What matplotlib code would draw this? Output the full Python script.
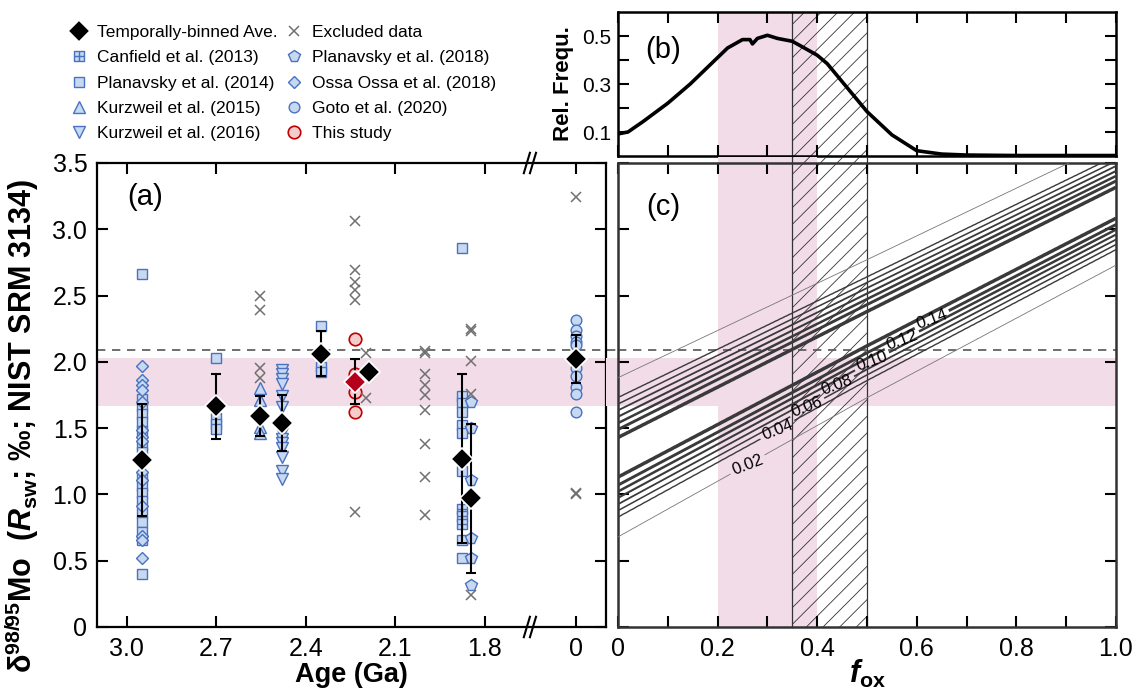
import numpy as np
import matplotlib
matplotlib.use("Agg")
import matplotlib.pyplot as plt
from matplotlib.path import Path

plt.rcParams['font.family'] = ['Liberation Sans', 'DejaVu Sans']
plt.rcParams['mathtext.fontset'] = 'custom'
plt.rcParams['mathtext.rm'] = 'Liberation Sans:bold'
plt.rcParams['mathtext.it'] = 'Liberation Sans:italic:bold'
plt.rcParams['mathtext.bf'] = 'Liberation Sans:bold'
plt.rcParams['hatch.linewidth'] = 0.6

# ---------------- panel (a): compiled delta98/95Mo data ----------------
canfield2013_age = [1.877, 1.877, 1.877]
canfield2013_d98 = [0.89, 0.84, 0.78]

planavsky2014_age = [2.95] * 17 + [2.70] * 4 + [2.35] * 3 + [1.877] * 9
planavsky2014_d98 = [2.66, 1.72, 1.67, 1.61, 1.55, 1.48, 1.37, 1.32, 1.13, 1.06,
                     1.01, 0.95, 0.86, 0.79, 0.72, 0.66, 0.40,
                     2.03, 1.58, 1.53, 1.49,
                     2.27, 1.96, 1.925,
                     2.86, 1.74, 1.69, 1.62, 1.52, 1.46, 1.18, 0.66, 0.52]

kurzweil2015_age = [2.555] * 4
kurzweil2015_d98 = [1.80, 1.71, 1.51, 1.46]

kurzweil2016_age = [2.48] * 14
kurzweil2016_d98 = [1.94, 1.91, 1.87, 1.83, 1.74, 1.66, 1.50, 1.46, 1.42, 1.385,
                    1.35, 1.28, 1.18, 1.12]

planavsky2018_age = [1.848] * 6
planavsky2018_d98 = [1.70, 1.50, 1.11, 0.67, 0.52, 0.32]

ossaossa2018_age = [2.95] * 14
ossaossa2018_d98 = [1.97, 1.86, 1.825, 1.79, 1.70, 1.485, 1.435, 1.40, 1.17, 1.11,
                    0.91, 0.69, 0.66, 0.52]

goto2020_age = [0.0] * 10
goto2020_d98 = [2.315, 2.24, 2.195, 2.15, 2.13, 1.95, 1.89, 1.81, 1.76, 1.62]

this_study_age = [2.236] * 4
this_study_d98 = [2.17, 1.91, 1.775, 1.62]

excluded_age = ([2.555] * 4 + [2.236] * 6 + [2.20] * 2 + [2.0] * 9 +
                [1.848] * 5 + [0.0] * 3)
excluded_d98 = [2.50, 2.39, 1.955, 1.88,
                3.06, 2.69, 2.60, 2.54, 2.47, 0.87,
                2.07, 1.73,
                2.08, 2.07, 1.91, 1.825, 1.75, 1.64, 1.38, 1.13, 0.845,
                2.25, 2.23, 2.01, 1.76, 0.24,
                3.245, 1.01, 1.00]

# temporally-binned averages (mean and 1 sd; 0 = no bar)
bin_age = [2.95, 2.70, 2.555, 2.48, 2.35, 2.19, 1.877, 1.848, 0.0]
bin_mean = [1.26, 1.665, 1.59, 1.54, 2.06, 1.92, 1.27, 0.97, 2.02]
bin_sd = [0.42, 0.245, 0.15, 0.21, 0.17, 0.0, 0.64, 0.565, 0.18]

study_bin_age = [2.236]
study_bin_mean = [1.85]
study_bin_sd = [0.17]

seawater_value = 2.09
estimate_band = [1.67, 2.03]

# ---------------- panel (b): relative frequency of f_ox ----------------
fox_b = [0.0, 0.02, 0.05, 0.10, 0.145, 0.17, 0.195, 0.22, 0.25, 0.265, 0.27, 0.28,
         0.30, 0.32, 0.35, 0.37, 0.40, 0.42, 0.45, 0.48, 0.50, 0.55, 0.60, 0.65,
         0.70, 0.80, 0.90, 1.00]
rel_freq = [0.092, 0.10, 0.143, 0.22, 0.30, 0.35, 0.40, 0.45, 0.485, 0.485, 0.467,
            0.49, 0.503, 0.49, 0.478, 0.455, 0.42, 0.385, 0.31, 0.235, 0.185, 0.088,
            0.022, 0.008, 0.004, 0.002, 0.002, 0.002]

fox_pink = [0.2, 0.4]
fox_hatch = [0.35, 0.5]

# ---------------- panel (c): probability density ridge ----------------
ridge_fox = [0.0, 0.5, 1.0]
ridge_center = [1.28, 2.25, 3.20]
ridge_halfwidth = [0.60, 0.52, 0.47]   # half-width of the 0.02 contour
# cross-ridge density profile, distance in units of that half-width
profile_dist = [0.0, 0.15, 0.25, 0.35, 0.43, 0.51, 0.59, 0.67, 0.75, 1.0, 1.3, 2.5]
profile_dens = [0.175, 0.17, 0.16, 0.14, 0.12, 0.10, 0.08, 0.06, 0.04, 0.02, 0.005, 0.0]
contour_levels = [0.02, 0.04, 0.06, 0.08, 0.10, 0.12, 0.14, 0.16]
contour_widths = [0.6, 1.0, 1.1, 1.3, 1.5, 1.8, 2.1, 2.5]
label_fox = [0.26, 0.32, 0.38, 0.44, 0.51, 0.57, 0.63]

# ---------------- style ----------------
BLUE_FACE = '#c6d9f1'
BLUE_EDGE = '#4a72c0'
RED_EDGE = '#c00000'
RED_FACE = '#f4cccc'
PINK = '#f2dce8'
GREY_X = '#707070'

AGE_ZERO_POS = 1.495   # axis position of the present-day (0 Ga) column


def age_pos(ages):
    a = np.asarray(ages, float)
    return np.where(a >= 1.0, a, AGE_ZERO_POS - a)


sq_cross = Path([(-0.5, -0.5), (0.5, -0.5), (0.5, 0.5), (-0.5, 0.5), (-0.5, -0.5),
                 (0, -0.5), (0, 0.5), (-0.5, 0), (0.5, 0)],
                [Path.MOVETO, Path.LINETO, Path.LINETO, Path.LINETO, Path.CLOSEPOLY,
                 Path.MOVETO, Path.LINETO, Path.MOVETO, Path.LINETO])

W, H = 1148, 691
fig = plt.figure(figsize=(W / 100, H / 100), dpi=100)


def px_axes(left, top, right, bottom):
    return fig.add_axes([left / W, 1 - bottom / H, (right - left) / W, (bottom - top) / H])


ax_a = px_axes(97, 163, 606, 627)
ax_b = px_axes(618, 12, 1116, 156)
ax_c = px_axes(618, 163, 1116, 627)

# ---------- (a) ----------
ax_a.axhspan(estimate_band[0], estimate_band[1], xmin=0, xmax=1.024,
             color=PINK, lw=0, zorder=0, clip_on=False)
ax_a.axhline(seawater_value, xmin=0, xmax=1.024, color='#555555', lw=1.2,
             dashes=(5, 4), zorder=1, clip_on=False)


def scat(ages, vals, marker, ms, face, edge, label, mew=1.0, z=3):
    return ax_a.plot(age_pos(ages), vals, ls='none', marker=marker, ms=ms, mfc=face,
                     mec=edge, mew=mew, label=label, zorder=z)[0]


h_pl14 = scat(planavsky2014_age, planavsky2014_d98, 's', 7.5, BLUE_FACE, BLUE_EDGE,
              'Planavsky et al. (2014)')
h_can = scat(canfield2013_age, canfield2013_d98, sq_cross, 7.5, BLUE_FACE, BLUE_EDGE,
             'Canfield et al. (2013)')
h_oss = scat(ossaossa2018_age, ossaossa2018_d98, 'D', 6.5, BLUE_FACE, BLUE_EDGE,
             'Ossa Ossa et al. (2018)')
h_kz15 = scat(kurzweil2015_age, kurzweil2015_d98, '^', 8.5, BLUE_FACE, BLUE_EDGE,
              'Kurzweil et al. (2015)')
h_kz16 = scat(kurzweil2016_age, kurzweil2016_d98, 'v', 8.5, BLUE_FACE, BLUE_EDGE,
              'Kurzweil et al. (2016)')
h_pl18 = scat(planavsky2018_age, planavsky2018_d98, 'p', 8.5, BLUE_FACE, BLUE_EDGE,
              'Planavsky et al. (2018)')
h_goto = scat(goto2020_age, goto2020_d98, 'o', 7.7, BLUE_FACE, BLUE_EDGE,
              'Goto et al. (2020)')
h_this = scat(this_study_age, this_study_d98, 'o', 9, RED_FACE, RED_EDGE,
              'This study', mew=1.2)
h_exc = ax_a.plot(age_pos(excluded_age), excluded_d98, ls='none', marker='x', ms=7,
                  mew=1.1, color=GREY_X, label='Excluded data', zorder=3)[0]

ba = np.asarray(bin_age)
bm = np.asarray(bin_mean)
bs = np.asarray(bin_sd)
has_bar = bs > 0
ax_a.errorbar(age_pos(ba[has_bar]), bm[has_bar], yerr=bs[has_bar], fmt='none',
              ecolor='black', elinewidth=1.5, capsize=3.5, capthick=1.5, zorder=4)
ax_a.errorbar(age_pos(study_bin_age), study_bin_mean, yerr=study_bin_sd, fmt='none',
              ecolor='black', elinewidth=1.5, capsize=3.5, capthick=1.5, zorder=4)
h_bin = ax_a.plot(age_pos(ba), bm, ls='none', marker='D', ms=11, mfc='black',
                  mec='white', mew=1.2, label='Temporally-binned Ave.', zorder=6)[0]
ax_a.plot(age_pos(study_bin_age), study_bin_mean, ls='none', marker='D', ms=11,
          mfc='#b5001c', mec='white', mew=1.2, zorder=6)

ax_a.set_xlim(3.1, 1.394)
ax_a.set_ylim(0, 3.5)
ax_a.set_xticks(list(age_pos([3.0, 2.7, 2.4, 2.1, 1.8, 0.0])))
ax_a.set_xticklabels(['3.0', '2.7', '2.4', '2.1', '1.8', '0'])
ax_a.set_yticks(np.arange(0, 3.51, 0.5))
ax_a.set_yticklabels(['0', '0.5', '1.0', '1.5', '2.0', '2.5', '3.0', '3.5'])
ax_a.tick_params(direction='in', length=8, width=1.5, labelsize=18,
                 top=True, right=True, pad=7)
for s in ax_a.spines.values():
    s.set_linewidth(1.6)
ax_a.set_xlabel('Age (Ga)', fontsize=19.5, fontweight='bold', labelpad=1)
ax_a.text(0.094, 0.927, '(a)', transform=ax_a.transAxes, fontsize=21,
          ha='center', va='center')

# axis break marks on the top and bottom spines
brk = 1 - (1.649 - 1.394) / (3.1 - 1.394)
for yb in (0.0, 1.0):
    for dx in (-0.006, 0.006):
        ax_a.plot([brk + dx - 0.006, brk + dx + 0.006], [yb - 0.022, yb + 0.022],
                  transform=ax_a.transAxes, color='black', lw=1.5, clip_on=False,
                  zorder=10)

fig.text(22 / W, 1 - 426 / H,
         'δ$^{\\rm 98/95}$Mo  ($R_{\\rm sw}$; ‰; NIST SRM 3134)',
         rotation=90, ha='center', va='center', fontsize=22, fontweight='bold')

handles = [h_bin, h_can, h_pl14, h_kz15, h_kz16, h_exc, h_pl18, h_oss, h_goto, h_this]
fig.legend(handles, [h.get_label() for h in handles], loc='upper left',
           bbox_to_anchor=(70 / W, 1 - 25 / H), ncol=2, frameon=False, fontsize=12.5,
           handlelength=1.0, handletextpad=0.55, columnspacing=0.45, labelspacing=0.58,
           borderpad=0, borderaxespad=0)

# ---------- (b) ----------
ax_b.axvspan(fox_pink[0], fox_pink[1], color=PINK, lw=0, zorder=0)
ax_b.axvspan(fox_hatch[0], fox_hatch[1], facecolor='none', edgecolor='#333333',
             hatch='//', lw=0, zorder=1)
for xv in fox_hatch:
    ax_b.axvline(xv, color='#333333', lw=0.9, zorder=1)
ax_b.plot(fox_b, rel_freq, color='black', lw=2.6, zorder=3)
ax_b.set_xlim(0, 1)
ax_b.set_ylim(0, 0.6)
ax_b.set_xticks(np.arange(0, 1.01, 0.1))
ax_b.set_xticklabels([])
ax_b.set_yticks([0.1, 0.2, 0.3, 0.4, 0.5])
ax_b.set_yticklabels(['0.1', '', '0.3', '', '0.5'])
ax_b.tick_params(direction='in', length=8, width=1.5, labelsize=15,
                 top=True, right=True, pad=5)
for s in ax_b.spines.values():
    s.set_linewidth(1.8)
ax_b.set_ylabel('Rel. Frequ.', fontsize=16, fontweight='bold', labelpad=6)
ax_b.text(0.09, 0.736, '(b)', transform=ax_b.transAxes, fontsize=21,
          ha='center', va='center')

# ---------- (c) ----------
ax_c.axvspan(fox_pink[0], fox_pink[1], ymin=0, ymax=1.013, color=PINK, lw=0,
             zorder=0, clip_on=False)
ax_c.axhspan(estimate_band[0], estimate_band[1], xmin=-0.025, xmax=1, color=PINK,
             lw=0, zorder=0, clip_on=False)
ax_c.axvspan(fox_hatch[0], fox_hatch[1], ymin=0, ymax=1.013, facecolor='none',
             edgecolor='#333333', hatch='//', lw=0, zorder=1, clip_on=False)
for xv in fox_hatch:
    ax_c.axvline(xv, ymin=0, ymax=1.013, color='#333333', lw=0.9, zorder=1,
                 clip_on=False)
ax_c.axhline(seawater_value, color='#555555', lw=1.2, dashes=(5, 4), zorder=2)

fg = np.linspace(0, 1, 401)
yg = np.linspace(-0.5, 4.5, 801)
F, Y = np.meshgrid(fg, yg)
ctr = np.interp(F, ridge_fox, ridge_center)
hw = np.interp(F, ridge_fox, ridge_halfwidth)
Z = np.interp(np.abs(Y - ctr) / hw, profile_dist, profile_dens)

ccol = ['#777777'] + ['#3a3a3a'] * (len(contour_levels) - 1)
cs = ax_c.contour(F, Y, Z, levels=contour_levels, colors=ccol,
                  linewidths=contour_widths, zorder=3)
lab_pos = []
for lev, fx in zip(contour_levels[:-1], label_fox):
    c0 = np.interp(fx, ridge_fox, ridge_center)
    h0 = np.interp(fx, ridge_fox, ridge_halfwidth)
    d0 = np.interp(lev, profile_dens[::-1], profile_dist[::-1])
    lab_pos.append((fx, c0 - d0 * h0))
ax_c.clabel(cs, levels=contour_levels[:-1], manual=lab_pos, fmt='%.2f',
            fontsize=12, inline=True, inline_spacing=2, colors='black')

ax_c.set_xlim(0, 1)
ax_c.set_ylim(0, 3.5)
ax_c.set_xticks(np.arange(0, 1.01, 0.1))
ax_c.set_xticklabels(['0', '', '0.2', '', '0.4', '', '0.6', '', '0.8', '', '1.0'])
ax_c.set_yticks(np.arange(0, 3.51, 0.5))
ax_c.set_yticklabels([])
ax_c.tick_params(direction='in', length=8, width=1.5, labelsize=18,
                 top=True, right=True, pad=7)
for s in ax_c.spines.values():
    s.set_linewidth(1.8)
    s.set_edgecolor('#333333')
ax_c.set_xlabel('$f_{\\rm ox}$', fontsize=22, labelpad=-2)
ax_c.text(0.09, 0.906, '(c)', transform=ax_c.transAxes, fontsize=21,
          ha='center', va='center')

fig.savefig('out.png', dpi=100)
